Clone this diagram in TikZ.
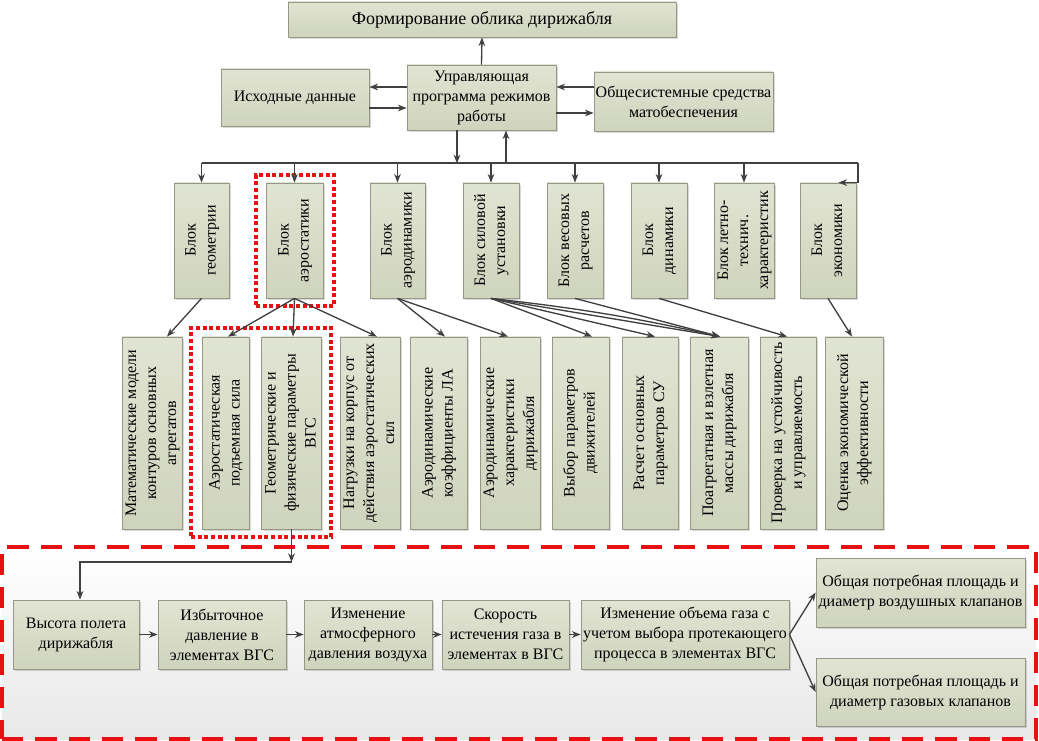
\documentclass[tikz,border=0pt]{standalone}
\usepackage{fontspec}
\setmainfont{Liberation Serif}
\usepackage{graphicx}
\usetikzlibrary{arrows.meta,calc,shadows}
\definecolor{boxtop}{RGB}{224,228,210}
\definecolor{boxbot}{RGB}{207,212,189}
\definecolor{boxline}{RGB}{150,152,135}
\definecolor{arrowc}{RGB}{64,64,64}
\definecolor{redc}{RGB}{232,16,16}
\tikzset{
 box/.style={draw=boxline, line width=0.6pt, top color=boxtop, bottom color=boxbot, inner sep=0pt, align=center,
   font=\fontsize{12}{15}\selectfont, drop shadow={opacity=0.3, shadow xshift=1.2pt, shadow yshift=-1.2pt}},
 arr/.style={draw=arrowc, line width=1pt, -{Stealth[length=6.5pt,width=5pt]}},
 plain/.style={draw=arrowc, line width=1pt},
 dotbox/.style={draw=redc, line width=2.6pt, dash pattern=on 3pt off 2pt, inner sep=0pt},
 dashbox/.style={draw=redc, line width=2.8pt, dash pattern=on 16pt off 9pt, inner sep=0pt, top color=white, bottom color=black!9},
}
\newcommand\mkbox[7][]{\node[box,#1, minimum width={(#5-#3)*0.75pt}, minimum height={(#6-#4)*0.75pt}] (#2) at ({(#3+#5)/2},{(#4+#6)/2}) {#7};}
\newcommand\mkframe[6]{\node[#1, minimum width={(#5-#3)*0.75pt}, minimum height={(#6-#4)*0.75pt}] (#2) at ({(#3+#5)/2},{(#4+#6)/2}) {};}
\newcommand\rt[1]{\rotatebox{90}{\begin{tabular}{@{}c@{}}#1\end{tabular}}}
\begin{document}
\begin{tikzpicture}[x=0.75pt,y=-0.75pt]
\useasboundingbox (0,0) rectangle (1039,741);
% lower region
\mkframe{dashbox}{region}{2}{547}{1036}{739}
% top
\mkbox[font=\fontsize{13.5}{15}\selectfont]{title}{288}{2}{676}{37}{Формирование облика дирижабля}
\mkbox{ish}{221}{69}{369}{126}{Исходные данные}
\mkbox{upr}{407}{65}{556}{130}{Управляющая\\программа режимов\\работы}
\mkbox{obs}{594}{72}{773}{131}{Общесистемные средства\\матобеспечения}
% blocks
\mkbox{geo}{174}{183}{229}{298}{\rt{Блок\\геометрии}}
\mkbox{aest}{266}{183}{323}{298}{\rt{Блок\\аэростатики}}
\mkbox{adyn}{370}{183}{425}{298}{\rt{Блок\\аэродинамики}}
\mkbox{sil}{463}{183}{519}{298}{\rt{Блок силовой\\установки}}
\mkbox{ves}{547}{183}{603}{298}{\rt{Блок весовых\\расчетов}}
\mkbox{dyn}{631}{183}{687}{298}{\rt{Блок\\динамики}}
\mkbox{lt}{716}{183}{772}{298}{\rt{Блок летно-\\технич.\\характеристик}}
\mkbox{eco}{800}{183}{856}{298}{\rt{Блок\\экономики}}
% lower row
\mkbox{mat}{124}{337}{180}{529}{\rt{Математические модели\\контуров основных\\агрегатов}}
\mkbox{lift}{202}{337}{249}{529}{\rt{Аэростатическая\\подъемная сила}}
\mkbox{geom}{263}{337}{320}{529}{\rt{Геометрические и\\физические параметры\\ВГС}}
\mkbox{load}{342}{337}{398}{529}{\rt{Нагрузки на корпус от\\действия аэростатических\\сил}}
\mkbox{coef}{410}{337}{467}{529}{\rt{Аэродинамические\\коэффициенты ЛА}}
\mkbox{char}{482}{337}{538}{529}{\rt{Аэродинамические\\характеристики\\дирижабля}}
\mkbox{eng}{552}{337}{609}{529}{\rt{Выбор параметров\\движителей}}
\mkbox{su}{622}{337}{678}{529}{\rt{Расчет основных\\параметров СУ}}
\mkbox{mass}{690}{337}{748}{529}{\rt{Поагрегатная и взлетная\\массы дирижабля}}
\mkbox{stab}{760}{337}{816}{529}{\rt{Проверка на устойчивость\\и управляемость}}
\mkbox{econ}{825}{337}{883}{529}{\rt{Оценка экономической\\эффективности}}
% red dotted selections
\mkframe{dotbox}{aestsel}{256}{175}{334}{306}
\mkframe{dotbox}{lowsel}{191}{328}{331}{537}
% bottom chain
\mkbox{h}{13}{600}{139}{669}{Высота полета\\дирижабля}
\mkbox{p}{158}{600}{286}{669}{Избыточное\\давление в\\элементах ВГС}
\mkbox{atm}{304}{600}{432}{669}{Изменение\\атмосферного\\давления воздуха}
\mkbox{v}{442}{600}{569}{669}{Скорость\\истечения газа в\\элементах в ВГС}
\mkbox{vol}{581}{600}{789}{669}{Изменение объема газа с\\учетом выбора протекающего\\процесса в элементах ВГС}
\mkbox{air}{816}{558}{1025}{627}{Общая потребная площадь и\\диаметр воздушных клапанов}
\mkbox{gas}{816}{658}{1025}{726}{Общая потребная площадь и\\диаметр газовых клапанов}
% top connectors
\draw[arr] (upr.north) -- (title.south);
\draw[arr] ($(upr.west)+(0,-10.5)$) -- ($(ish.east)+(0,-10.5)$);
\draw[arr] ($(ish.east)+(0,10.5)$) -- ($(upr.west)+(0,10.5)$);
\draw[arr] ($(obs.west)+(0,-14.5)$) -- ($(upr.east)+(0,-10.5)$);
\draw[arr] ($(upr.east)+(0,15.5)$) -- ($(obs.west)+(0,11.5)$);
\coordinate (busL) at (202,163);
\coordinate (busR) at (858,163);
\draw[arr] ($(upr.south)+(-24.5,0)$) -- ($(upr.south)+(-24.5,33)$);
\draw[arr] ($(upr.south)+(24.5,33)$) -- ($(upr.south)+(24.5,0)$);
\draw[plain] (busL) -- (busR);
\foreach \n in {geo,aest,adyn,sil,ves,dyn,lt} \draw[arr] (\n.north |- busL) -- (\n.north);
\draw[arr] (busR) -- (busR |- eco.north) -- ($(eco.north east)+(-18,0)$);
% block to lower row
\draw[arr] (geo.south) -- ($(mat.north)+(15,0)$);
\draw[arr] (aest.south) -- ($(lift.north)+(2.5,0)$);
\draw[arr] (aest.south) -- ($(geom.north)+(1.5,0)$);
\draw[arr] (aest.south) -- ($(load.north)+(7,0)$);
\draw[arr] (adyn.south) -- ($(coef.north)+(6.5,0)$);
\draw[arr] (adyn.south) -- ($(char.north)+(-2,0)$);
\draw[arr] (sil.south) -- ($(eng.north)+(11.5,0)$);
\draw[arr] (sil.south) -- ($(su.north)+(5,0)$);
\draw[arr] (sil.south) -- ($(mass.north)+(1,0)$);
\draw[arr] (sil.south) to[bend left=3] ($(mass.north)+(1,0)$);
\draw[arr] (ves.south) -- ($(mass.north)+(1,0)$);
\draw[arr] (dyn.south) -- ($(stab.north)+(-1,0)$);
\draw[arr] (eco.south) -- ($(econ.north)+(-2,0)$);
% to bottom chain
\coordinate (jn) at (291.5,562);
\draw[arr] (geom.south) -- (jn);
\draw[arr] (jn) -| ($(h.north)+(4,0)$);
\draw[arr] (h.east) -- (p.west);
\draw[arr] (p.east) -- (atm.west);
\draw[arr] (atm.east) -- (v.west);
\draw[arr] (v.east) -- (vol.west);
\draw[arr] (vol.east) -- (air.west);
\draw[arr] (vol.east) -- (gas.west);
\end{tikzpicture}
\end{document}
